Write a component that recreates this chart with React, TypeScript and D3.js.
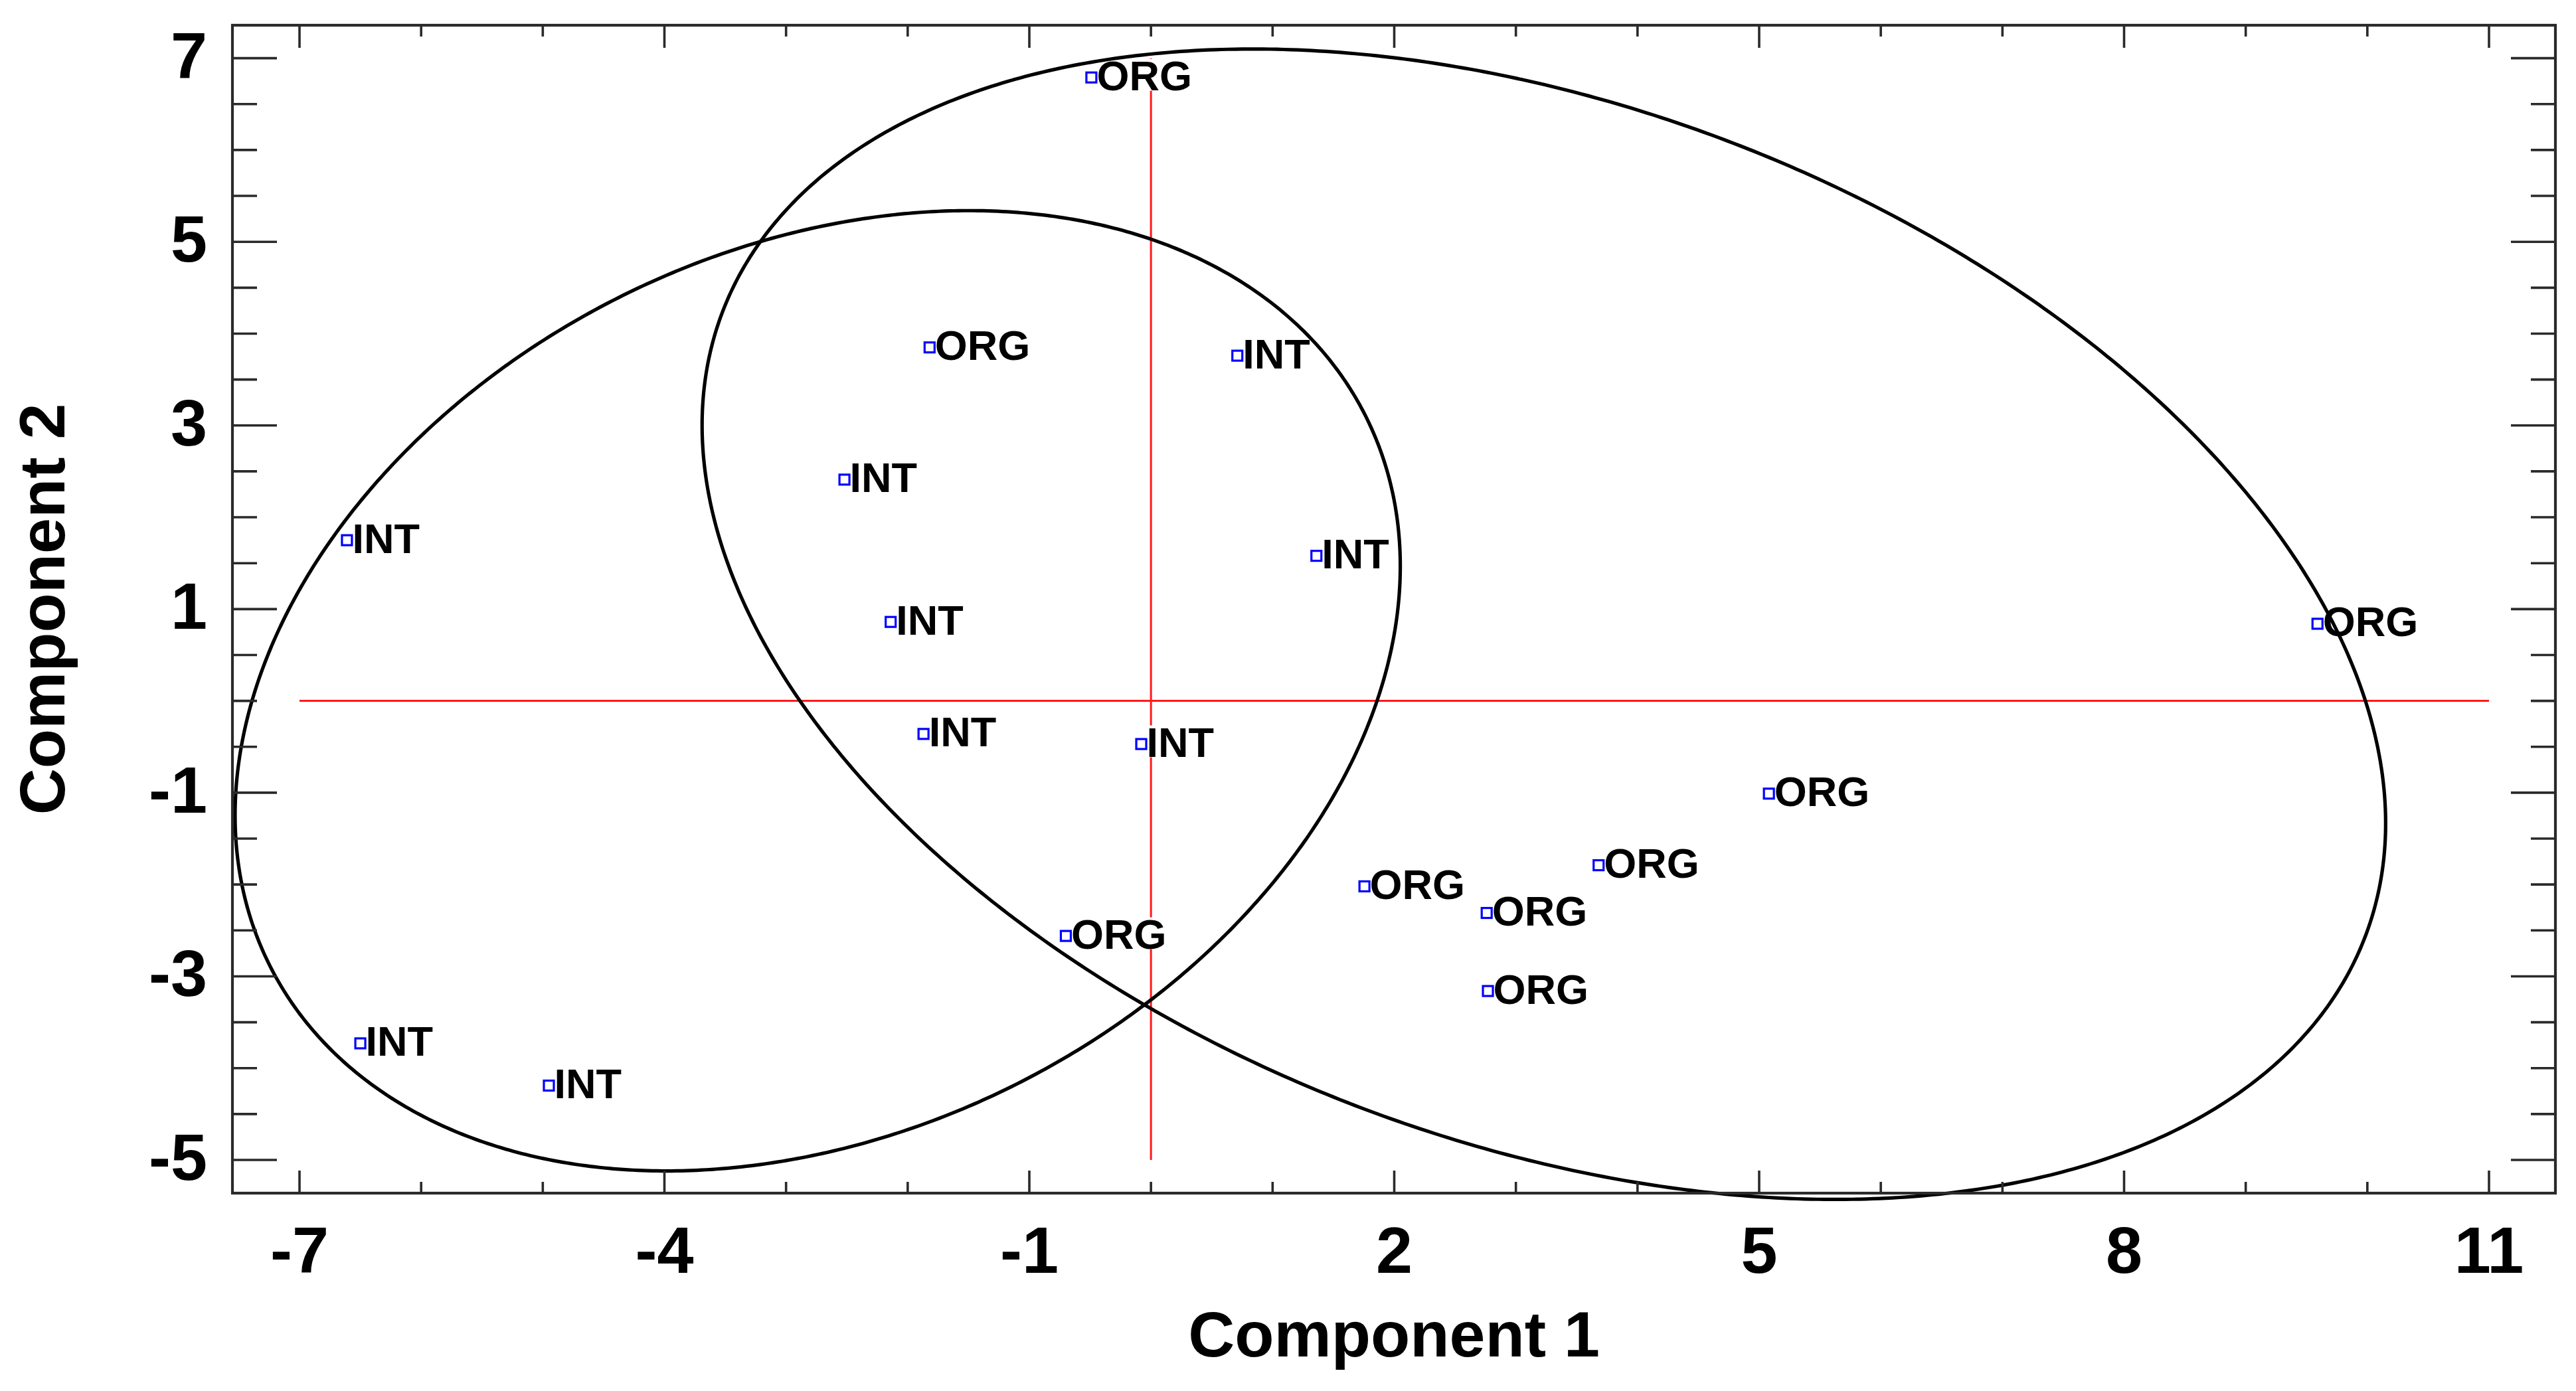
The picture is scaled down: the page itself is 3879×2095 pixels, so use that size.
import React from 'react';
import * as d3 from 'd3';

// ---- data ----
const groups = ['ORG', 'ORG', 'INT', 'INT', 'INT', 'INT', 'INT', 'ORG', 'INT', 'INT', 'ORG', 'ORG', 'ORG', 'ORG', 'ORG', 'ORG', 'INT', 'INT'];
const comp1 = [-0.49, -1.82, 0.71, -2.52, -6.61, 1.36, -2.14, 9.59, -1.87, -0.08, 5.08, 3.68, 1.755, 2.76, -0.70, 2.77, -6.50, -4.95];
const comp2 = [6.79, 3.85, 3.76, 2.41, 1.75, 1.58, 0.86, 0.84, -0.36, -0.47, -1.01, -1.79, -2.02, -2.31, -2.56, -3.16, -3.73, -4.19];

const xTickLabels = [-7, -4, -1, 2, 5, 8, 11];
const yTickLabels = [7, 5, 3, 1, -1, -3, -5];
const xMinorTicks = d3.range(-7, 11.001, 1);
const yMinorTicks = d3.range(-5, 7.001, 0.5);

// confidence ellipses (center, variances, covariance)
const ellipseGroups = ['INT', 'ORG'];
const ellipseCenterX = [-2.74, 3.23];
const ellipseCenterY = [0.11, 0.835];
const ellipseVarX = [22.94, 47.89];
const ellipseVarY = [27.35, 39.25];
const ellipseCov = [6.5, -15.0];

const refLineX = [-7, 11];
const refLineY = [-5, 7];

const xTitle = 'Component 1';
const yTitle = 'Component 2';

// ---- layout ----
const W = 3879;
const H = 2095;
const left = 350, right = 3848, top = 38, bottom = 1797;

const x = d3.scaleLinear().domain([-7.5514, 11.546]).range([left, right]);
const y = d3.scaleLinear().domain([-5.3615, 7.359]).range([bottom, top]);

const FONT = '"Liberation Sans", Arial, Helvetica, sans-serif';
const AXIS_COLOR = '#2a2a2a';

function ellipsePath(i: number) {
  const a = ellipseVarX[i], b = ellipseVarY[i], c = ellipseCov[i];
  const lxx = Math.sqrt(a);
  const lyx = c / lxx;
  const lyy = Math.sqrt(b - lyx * lyx);
  const ts = d3.range(0, 2 * Math.PI, Math.PI / 360);
  const pts = ts.map((t) => [
    x(ellipseCenterX[i] + lxx * Math.cos(t)),
    y(ellipseCenterY[i] + lyx * Math.cos(t) + lyy * Math.sin(t)),
  ] as [number, number]);
  return d3.line().curve(d3.curveLinearClosed)(pts) || '';
}

const labelFont = 63;
const labelWidth: Record<string, number> = { ORG: 2.278 * labelFont, INT: 1.611 * labelFont };

export default function App() {
  const points = comp1.map((c, i) => ({ g: groups[i], px: x(c), py: y(comp2[i]) }));
  return (
    <svg width={W} height={H} style={{ position: 'absolute', left: 0, top: 0, background: '#fff' }} xmlns="http://www.w3.org/2000/svg">
      <rect x={0} y={0} width={W} height={H} fill="#fff" />
      {/* reference lines */}
      <line x1={x(refLineX[0])} x2={x(refLineX[1])} y1={y(0)} y2={y(0)} stroke="#ff1a1a" strokeWidth={3} />
      <line x1={x(0)} x2={x(0)} y1={y(refLineY[0])} y2={y(refLineY[1])} stroke="#ff1a1a" strokeWidth={3} />
      {/* label backgrounds */}
      {points.map((p, i) => (
        <rect key={'bg' + i} x={p.px + 8} y={p.py + 19 - 47} width={labelWidth[p.g]} height={48} fill="#fff" />
      ))}
      {/* ellipses */}
      {ellipseGroups.map((g, i) => (
        <path key={g} d={ellipsePath(i)} fill="none" stroke="#000" strokeWidth={5.2} />
      ))}
      {/* frame */}
      <rect x={left} y={top} width={right - left} height={bottom - top} fill="none" stroke={AXIS_COLOR} strokeWidth={4.2} />
      {/* x ticks */}
      {xMinorTicks.map((t) => {
        const major = xTickLabels.includes(t);
        const len = major ? 34 : 17;
        return (
          <g key={'xt' + t} stroke={AXIS_COLOR} strokeWidth={3.6}>
            <line x1={x(t)} x2={x(t)} y1={bottom} y2={bottom - len} />
            <line x1={x(t)} x2={x(t)} y1={top} y2={top + len} />
          </g>
        );
      })}
      {/* y ticks */}
      {yMinorTicks.map((t) => {
        const major = yTickLabels.includes(t);
        const len = major ? 67 : 37;
        return (
          <g key={'yt' + t} stroke={AXIS_COLOR} strokeWidth={3.6}>
            <line x1={left} x2={left + len} y1={y(t)} y2={y(t)} />
            <line x1={right} x2={right - len} y1={y(t)} y2={y(t)} />
          </g>
        );
      })}
      {/* tick labels */}
      {xTickLabels.map((t) => (
        <text key={'xl' + t} x={x(t)} y={1917} textAnchor="middle" fontFamily={FONT} fontWeight="bold" fontSize={99} fill="#000">
          {t}
        </text>
      ))}
      {yTickLabels.map((t) => (
        <text key={'yl' + t} x={312} y={y(t) + 30} textAnchor="end" fontFamily={FONT} fontWeight="bold" fontSize={99} fill="#000">
          {t}
        </text>
      ))}
      {/* axis titles */}
      <text x={(left + right) / 2} y={2043} textAnchor="middle" fontFamily={FONT} fontWeight="bold" fontSize={97} fill="#000">
        {xTitle}
      </text>
      <text transform={`translate(97, ${(top + bottom) / 2}) rotate(-90)`} textAnchor="middle" fontFamily={FONT} fontWeight="bold" fontSize={97} fill="#000">
        {yTitle}
      </text>
      {/* points */}
      {points.map((p, i) => (
        <g key={'pt' + i}>
          <rect x={p.px - 7.5} y={p.py - 7.5} width={15} height={15} fill="#fff" stroke="#0000ff" strokeWidth={3.2} />
          <text x={p.px + 8} y={p.py + 19} fontFamily={FONT} fontWeight="bold" fontSize={labelFont} fill="#000">
            {p.g}
          </text>
        </g>
      ))}
    </svg>
  );
}
